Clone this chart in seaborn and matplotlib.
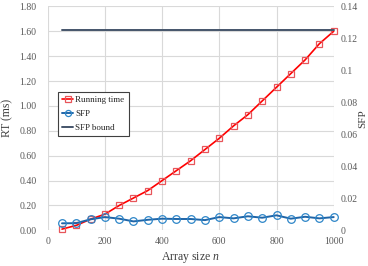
import matplotlib
matplotlib.use("Agg")
import matplotlib.pyplot as plt
import seaborn as sns
import pandas as pd

# values
array_size = [50, 100, 150, 200, 250, 300, 350, 400, 450, 500,
              550, 600, 650, 700, 750, 800, 850, 900, 950, 1000]
running_time = [0.01, 0.04, 0.09, 0.13, 0.20, 0.26, 0.32, 0.40, 0.48, 0.56,
                0.65, 0.74, 0.84, 0.93, 1.04, 1.15, 1.26, 1.37, 1.50, 1.60]
sfp = [0.0044, 0.0045, 0.0069, 0.0083, 0.0073, 0.0056, 0.0066, 0.0073, 0.0071, 0.0071,
       0.0064, 0.0083, 0.0075, 0.0088, 0.0079, 0.0094, 0.0073, 0.0085, 0.0075, 0.0083]
sfp_bound = [0.125] * len(array_size)

x_ticks = [0, 200, 400, 600, 800, 1000]
rt_ticks = [0.0, 0.2, 0.4, 0.6, 0.8, 1.0, 1.2, 1.4, 1.6, 1.8]
sfp_ticks = [0, 0.02, 0.04, 0.06, 0.08, 0.1, 0.12, 0.14]
sfp_tick_labels = ['0', '0.02', '0.04', '0.06', '0.08', '0.1', '0.12', '0.14']

data = pd.DataFrame({'n': array_size, 'rt': running_time, 'sfp': sfp, 'bound': sfp_bound})

sns.set_style('whitegrid')
plt.rcParams['font.family'] = ['Liberation Serif', 'DejaVu Serif']
plt.rcParams['mathtext.fontset'] = 'custom'
plt.rcParams['mathtext.it'] = 'Liberation Serif:italic'
plt.rcParams['mathtext.rm'] = 'Liberation Serif'

fig = plt.figure(figsize=(3.68, 2.66), dpi=100)
ax = fig.add_axes([0.1296, 0.134, 0.9068 - 0.1296, 0.976 - 0.134])
ax2 = ax.twinx()

sns.lineplot(data=data, x='n', y='rt', ax=ax, color='#FF0000', linewidth=1.2,
             marker='s', markersize=5, markerfacecolor='none', markeredgecolor='#E8555A',
             markeredgewidth=0.9, clip_on=False, label='Running time', legend=False)
sns.lineplot(data=data, x='n', y='sfp', ax=ax2, color='#1F65A8', linewidth=1.4,
             marker='o', markersize=5.5, markerfacecolor='none', markeredgecolor='#2E86C8',
             markeredgewidth=0.9, clip_on=False, label='SFP', legend=False)
sns.lineplot(data=data, x='n', y='bound', ax=ax2, color='#44546A', linewidth=1.4,
             clip_on=False, label='SFP bound', legend=False)

ax.set_xlim(0, 1000)
ax.set_ylim(0, 1.8)
ax2.set_ylim(0, 0.14)
ax.set_xticks(x_ticks)
ax.set_yticks(rt_ticks)
ax.set_yticklabels([f'{v:.2f}' for v in rt_ticks])
ax2.set_yticks(sfp_ticks)
ax2.set_yticklabels(sfp_tick_labels)
ax2.grid(False)
ax.grid(True, color='#D9D9D9', linewidth=0.8)

for a in (ax, ax2):
    for s in a.spines.values():
        s.set_visible(False)
ax.tick_params(axis='both', length=0, labelsize=7, labelcolor='#595959')
ax.tick_params(axis='y', pad=8)
ax.tick_params(axis='x', pad=5)
ax2.tick_params(axis='y', length=0, labelsize=7, labelcolor='#595959', pad=5)

ax.set_xlabel('Array size $n$', fontsize=8.5, color='#404040', labelpad=3)
ax.set_ylabel('RT (ms)', fontsize=8.5, color='#404040', labelpad=4)
ax2.set_ylabel('SFP', fontsize=8, color='#404040', labelpad=0)

h1, l1 = ax.get_legend_handles_labels()
h2, l2 = ax2.get_legend_handles_labels()
leg = ax2.legend(h1 + h2, l1 + l2, loc='upper left', bbox_to_anchor=(0.02, 0.64),
                 fontsize=6.5, frameon=True, fancybox=False, framealpha=1,
                 edgecolor='#404040', handlelength=1.2, handletextpad=0.2,
                 borderpad=0.5, labelspacing=0.6, markerscale=0.8)
leg.get_frame().set_linewidth(0.8)

fig.savefig('out.png', dpi=100)
